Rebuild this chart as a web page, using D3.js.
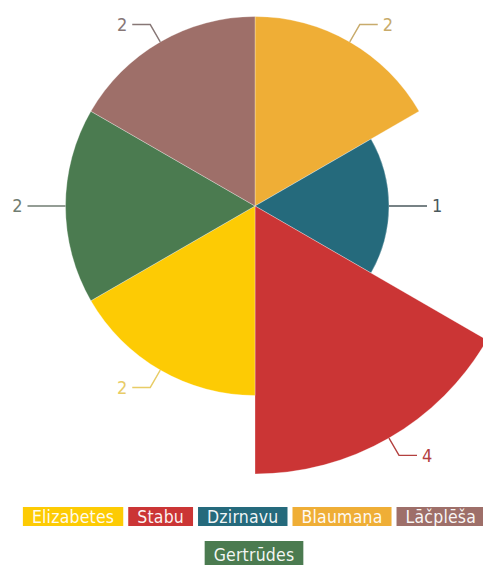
<!DOCTYPE html>
<html>
<head>
<meta charset="utf-8">
<script src="https://cdn.jsdelivr.net/npm/d3@7"></script>
<style>
  html, body { margin: 0; padding: 0; background: #fff; }
  svg { display: block; }
  text { font-family: "Liberation Sans Narrow", "DejaVu Sans Condensed", "Arial Narrow", sans-serif; }
</style>
</head>
<body>
<svg id="chart" width="483" height="565"></svg>
<script>
// Streets, clockwise from 12 o'clock, and their counts
const categories = ["Blaumaņa", "Dzirnavu", "Stabu", "Elizabetes", "Gertrūdes", "Lāčplēša"];
const values = [2, 1, 4, 2, 2, 2];
// Order of the legend entries
const legendOrder = ["Elizabetes", "Stabu", "Dzirnavu", "Blaumaņa", "Lāčplēša", "Gertrūdes"];

const fill = {
  "Elizabetes": "#fdcb04",
  "Stabu": "#cb3535",
  "Dzirnavu": "#256a7c",
  "Blaumaņa": "#efae36",
  "Lāčplēša": "#9e6f69",
  "Gertrūdes": "#4b7b50"
};
const labelInk = {
  "Elizabetes": "#e8cc66",
  "Stabu": "#b3403f",
  "Dzirnavu": "#4a585c",
  "Blaumaņa": "#c8ab6c",
  "Lāčplēša": "#877776",
  "Gertrūdes": "#717d72"
};

const svg = d3.select("#chart");
const cx = 255, cy = 206;

const data = categories.map((c, i) => ({ name: c, value: values[i] }));

// Equal angles, radius encodes the value (area-proportional)
const r = d3.scaleSqrt().domain([0, 4]).range([0, 268]);
const pie = d3.pie().value(() => 1).sort(null);
const arcs = pie(data);

const g = svg.append("g").attr("transform", `translate(${cx},${cy})`);

g.selectAll("path.slice")
  .data(arcs)
  .join("path")
  .attr("class", "slice")
  .attr("d", d => d3.arc().innerRadius(0).outerRadius(r(d.data.value))(d))
  .attr("fill", d => fill[d.data.name])
  .attr("stroke", "rgba(255,255,255,0.5)")
  .attr("stroke-width", 0.6);

// Value labels with elbow leader lines
const lab = g.selectAll("g.lab").data(arcs).join("g").attr("class", "lab");
lab.each(function(d) {
  const a = (d.startAngle + d.endAngle) / 2;
  const rr = r(d.data.value);
  const sx = Math.sin(a), sy = -Math.cos(a);
  const p0 = [sx * rr, sy * rr];
  const p1 = [sx * (rr + 20), sy * (rr + 20)];
  const right = sx >= 0;
  const p2 = [p1[0] + (right ? 18 : -18), p1[1]];
  const sel = d3.select(this);
  sel.append("path")
    .attr("d", d3.line()([p0, p1, p2]))
    .attr("fill", "none")
    .attr("stroke", labelInk[d.data.name])
    .attr("stroke-width", 1.4);
  sel.append("text")
    .attr("x", p2[0] + (right ? 5 : -5))
    .attr("y", p2[1])
    .attr("dy", "0.36em")
    .attr("text-anchor", right ? "start" : "end")
    .attr("font-size", 18)
    .attr("fill", labelInk[d.data.name])
    .text(d.data.value);
});

// Legend: coloured boxes, wrapped and centred under the chart
const legend = svg.append("g");
const pad = 9, gap = 5, maxW = 483, boxH = 19;
const items = legendOrder.map(name => {
  const t = legend.append("text")
    .attr("font-size", 17.5)
    .attr("letter-spacing", 0.2)
    .attr("fill", "#fff")
    .attr("fill-opacity", 0.94)
    .text(name);
  const w = t.node().getComputedTextLength();
  return { name, t, w: w + pad * 2 };
});
const rows = [];
let cur = [], curW = 0;
items.forEach(it => {
  const need = cur.length ? curW + gap + it.w : it.w;
  if (need > maxW && cur.length) { rows.push(cur); cur = [it]; curW = it.w; }
  else { cur.push(it); curW = need; }
});
if (cur.length) rows.push(cur);

const rowTop = [507, 541];
const rowH = [boxH, 26];
const rowBase = [523, 561];
rows.forEach((row, ri) => {
  const total = d3.sum(row, d => d.w) + gap * (row.length - 1);
  let x = 254 - total / 2;
  row.forEach(it => {
    legend.insert("rect", "text")
      .attr("x", x).attr("y", rowTop[ri])
      .attr("width", it.w).attr("height", rowH[ri])
      .attr("fill", fill[it.name]);
    it.t.attr("x", x + pad).attr("y", rowBase[ri]);
    x += it.w + gap;
  });
});
</script>
</body>
</html>
